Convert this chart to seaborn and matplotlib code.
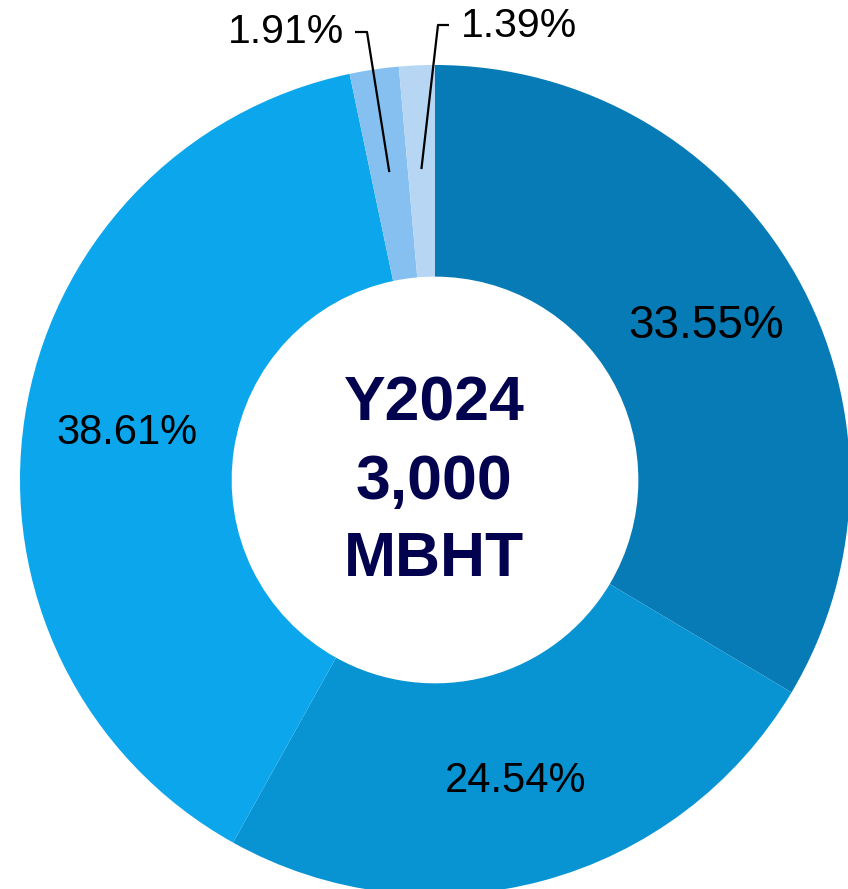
import seaborn as sns
import matplotlib.pyplot as plt
import numpy as np

sns.set_theme(style='white')
plt.rcParams['font.family'] = ['Liberation Sans', 'DejaVu Sans']

# shares of the 3,000 MBHT total, clockwise from 12 o'clock
shares = [33.55, 24.54, 38.61, 1.91, 1.39]
labels = ['33.55%', '24.54%', '38.61%', '1.91%', '1.39%']
label_sizes = [33, 30, 30, 29.5, 29.5]
colors = ['#067BB5', '#0893D3', '#0BA6EB', '#86C0F0', '#B6D6F4']
center_lines = ['Y2024', '3,000', 'MBHT']

W, H = 848, 889
cx, cy, R = 435, 480, 415  # pixel centre and radius

fig = plt.figure(figsize=(W / 100, H / 100), dpi=100)
ax = fig.add_axes([0, 0, 1, 1])

wedges, _ = ax.pie(shares, colors=colors, startangle=90, counterclock=False,
                   radius=1, wedgeprops=dict(width=0.51, linewidth=0))

ax.set_xlim(-cx / R, (W - cx) / R)
ax.set_ylim(-(H - cy) / R, cy / R)
ax.set_aspect('equal')
ax.axis('off')

def mid_point(w, r=0.75):
    a = np.deg2rad((w.theta1 + w.theta2) / 2)
    return r * np.cos(a), r * np.sin(a)

# big slices: label inside the ring
for w, lab, fs in zip(wedges[:3], labels[:3], label_sizes[:3]):
    x, y = mid_point(w)
    ax.text(x, y, lab, ha='center', va='center', fontsize=fs, color='black')

# small slices: leader lines to labels above the ring
px = lambda p: (p - cx) / R
py = lambda p: (cy - p) / R
small = [
    (3, (367, 32), (355, 32), 'right', (344, 32)),
    (4, (438, 25), (449, 25), 'left', (461, 26)),
]
for i, elbow, end, ha, tpos in small:
    x0, y0 = mid_point(wedges[i])
    ax.plot([x0, px(elbow[0]), px(end[0])], [y0, py(elbow[1]), py(end[1])],
            color='black', lw=1.6, solid_capstyle='butt')
    ax.text(px(tpos[0]), py(tpos[1]), labels[i], ha=ha, va='center',
            fontsize=label_sizes[i], color='black')

# centre text
for i, line in enumerate(center_lines):
    ax.text(px(434), py(404 + i * 78), line, ha='center', va='center',
            fontsize=45, fontweight='bold', color='#02024F')

fig.savefig('out.png', dpi=100)
